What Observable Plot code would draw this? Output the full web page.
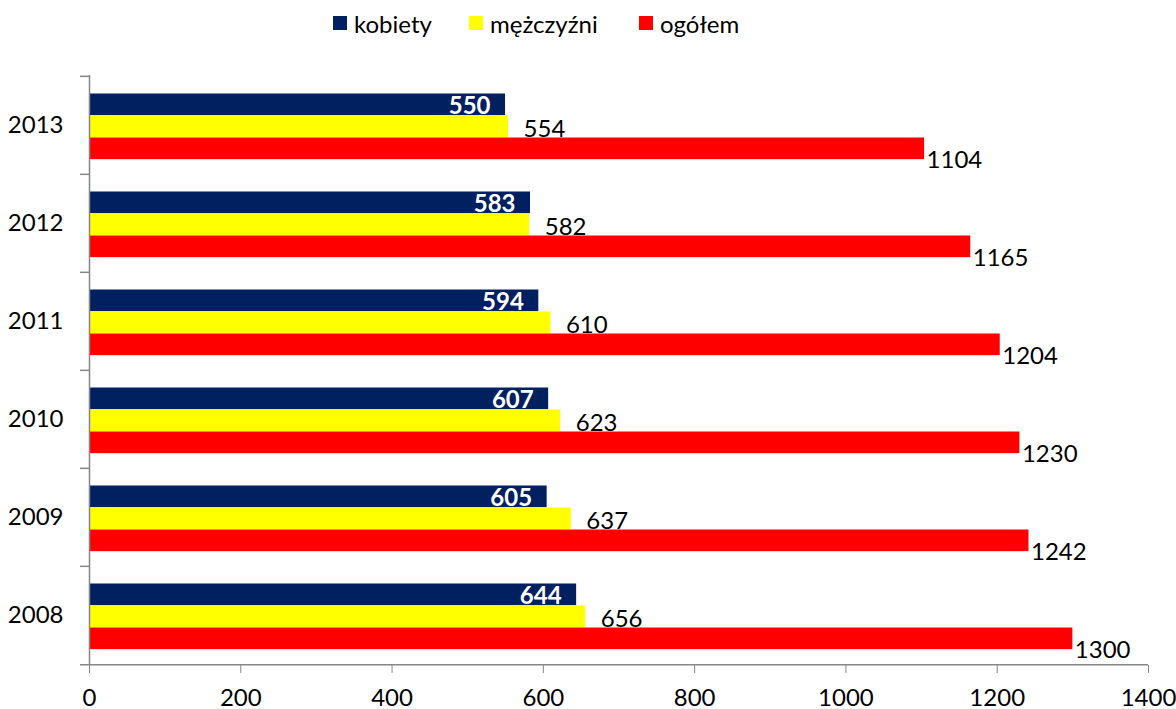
<!DOCTYPE html>
<html>
<head>
<meta charset="utf-8">
<script src="https://cdn.jsdelivr.net/npm/d3@7"></script>
<script src="https://cdn.jsdelivr.net/npm/@observablehq/plot@0.6"></script>
<style>
  html, body { margin: 0; padding: 0; background: #fff; }
  body { width: 1176px; height: 709px; overflow: hidden; font-family: Lato, "Open Sans", sans-serif; }
  #legend { position: relative; height: 46px; font-size: 24px; color: #000; }
  .item { position: absolute; top: 6px; display: flex; align-items: center; height: 34px; }
  .sw { width: 14px; height: 14px; margin-right: 7px; }
</style>
</head>
<body>
<div id="legend"></div>
<div id="chart"></div>
<script>
// ---- data ----
const years = ["2013", "2012", "2011", "2010", "2009", "2008"];
const kobiety = [550, 583, 594, 607, 605, 644];
const mezczyzni = [554, 582, 610, 623, 637, 656];
const ogolem = [1104, 1165, 1204, 1230, 1242, 1300];
const seriesNames = ["kobiety", "mężczyźni", "ogółem"];
const seriesColors = ["#002060", "#FFFF00", "#FF0000"];
const xTicks = [0, 200, 400, 600, 800, 1000, 1200, 1400];

// ---- legend ----
const legendLeft = [333, 469, 639];
const legend = document.getElementById("legend");
seriesNames.forEach((n, i) => {
  const it = document.createElement("div");
  it.className = "item";
  it.style.left = legendLeft[i] + "px";
  it.innerHTML = `<span class="sw" style="background:${seriesColors[i]}"></span><span>${n}</span>`;
  legend.appendChild(it);
});

// ---- layout ----
const width = 1176, height = 663;
const marginTop = 29, marginBottom = 44, marginLeft = 89, marginRight = 28;
const step = (height - marginTop - marginBottom) / years.length;
const barH = 22, firstOffset = 17.5;
const gray = "#868686";

const rows = (vals) => years.map((y, i) => ({year: y, value: vals[i]}));
const K = rows(kobiety), M = rows(mezczyzni), O = rows(ogolem);

function barOpts(k) {
  const top = firstOffset + k * barH;
  return {insetTop: top, insetBottom: step - top - barH};
}
const centerDy = (k) => firstOffset + k * barH + barH / 2 - step / 2;

const chart = Plot.plot({
  width, height, marginTop, marginBottom, marginLeft, marginRight,
  style: {fontFamily: "Lato, 'Open Sans', sans-serif", fontSize: "24px", color: "#000", background: "#fff", overflow: "visible"},
  x: {domain: [0, 1400], ticks: xTicks},
  y: {domain: years, padding: 0},
  marks: [
    Plot.barX(K, {x: "value", y: "year", fill: seriesColors[0], ...barOpts(0)}),
    Plot.barX(M, {x: "value", y: "year", fill: seriesColors[1], ...barOpts(1)}),
    Plot.barX(O, {x: "value", y: "year", fill: seriesColors[2], ...barOpts(2)}),
    Plot.text(K, {x: "value", y: "year", text: d => String(d.value), textAnchor: "end", dx: -15, dy: centerDy(0) + 1, fill: "#fff", fontWeight: "bold", fontSize: 24}),
    Plot.text(M, {x: "value", y: "year", text: d => String(d.value), textAnchor: "start", dx: 15, dy: centerDy(1) + 2, fill: "#000", fontSize: 24}),
    Plot.text(O, {x: "value", y: "year", text: d => String(d.value), textAnchor: "start", dx: 2, dy: centerDy(2) + 11, fill: "#000", fontSize: 24}),
    Plot.ruleX([0], {stroke: gray, strokeWidth: 1.5}),
    Plot.ruleY(years, {y: d => d, x1: 0, x2: 0, insetLeft: -9, dy: -step / 2, stroke: gray, strokeWidth: 1.5}),
    Plot.ruleY([years[years.length - 1]], {y: d => d, x1: 0, x2: 1400, insetLeft: -9, dy: step / 2, stroke: gray, strokeWidth: 1.5}),
    Plot.axisX({ticks: xTicks, tickSize: 8, tickPadding: 15, stroke: gray, fill: "#000", label: null, fontSize: 24, tickFormat: d => String(d)}),
    Plot.axisY({tickSize: 0, tickPadding: 26, fill: "#000", label: null, fontSize: 24})
  ]
});
document.getElementById("chart").appendChild(chart);
</script>
</body>
</html>
